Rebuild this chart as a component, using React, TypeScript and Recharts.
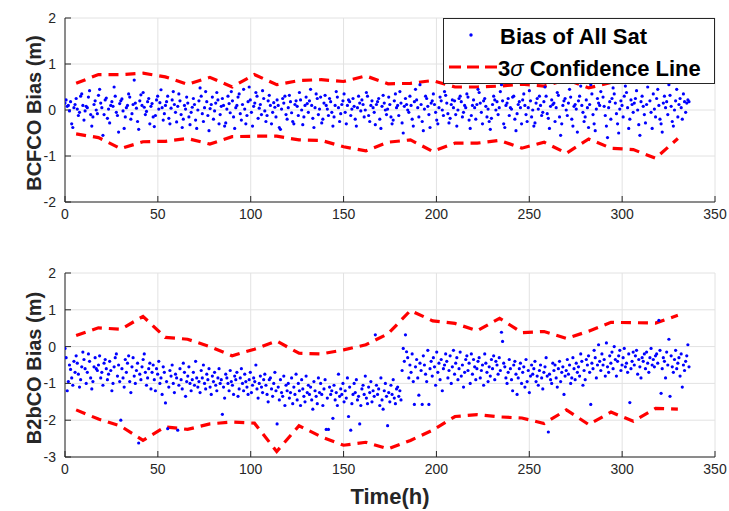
import React from 'react';
import { ComposedChart, Scatter, Line, XAxis, YAxis, CartesianGrid, Legend } from 'recharts';

// epochs run from 0 h to the last epoch, evenly spaced
const LAST_EPOCH_H = 336;

const bcfcoBias = [
  0.15, 0.22, 0.08, 0.1, -0.02, 0.18, -0.3, -0.38, 0.05, 0.12,
  0.25, 0.02, -0.12, -0.05, 0.3, 0.35, 0.1, -0.22, -0.02, 0.08,
  0.05, 0.28, 0.42, -0.1, -0.35, -0.15, 0.12, 0.2, 0.0, -0.08,
  0.32, 0.45, 0.15, 0.05, -0.55, -0.1, 0.22, 0.26, -0.18, 0.02,
  -0.28, 0.1, 0.18, 0.08, 0.5, 0.3, -0.05, -0.12, -0.48, 0.14,
  0.2, 0.24, -0.02, -0.4, -0.15, 0.05, 0.1, 0.35, 0.28, -0.2,
  -0.08, 0.12, 0.65, 0.15, 0.04, -0.25, -0.42, 0.2, 0.33, 0.1,
  0.38, 0.06, -0.1, -0.03, 0.18, 0.25, -0.3, 0.08, 0.14, -0.15,
  -0.36, -0.12, 0.22, 0.3, 0.02, 0.16, 0.44, 0.05, -0.22, -0.08,
  0.1, 0.18, 0.3, -0.18, -0.3, 0.04, 0.22, 0.4, 0.12, -0.05,
  -0.26, 0.08, 0.35, 0.2, -0.1, -0.38, -0.2, 0.1, 0.02, 0.28,
  0.15, -0.15, -0.32, -0.05, 0.06, 0.25, 0.12, -0.22, -0.4, 0.0,
  0.2, 0.48, 0.3, -0.08, -0.25, 0.05, 0.4, 0.18, -0.12, -0.45,
  0.03, 0.12, 0.28, -0.2, -0.02, 0.15, 0.38, 0.22, -0.3, -0.1,
  0.08, 0.25, 0.1, -0.35, -0.28, 0.02, 0.3, 0.14, -0.06, 0.4,
  0.2, -0.15, -0.4, 0.05, 0.1, 0.28, 0.35, -0.08, -0.22, 0.12,
  0.45, 0.02, -0.3, -0.12, 0.18, 0.5, 0.22, -0.05, -0.35, 0.08,
  0.15, 0.38, 0.3, -0.18, 0.04, 0.12, -0.1, 0.42, 0.25, -0.02,
  -0.25, -0.12, 0.2, 0.32, 0.1, -0.3, -0.05, 0.16, 0.06, -0.15,
  0.22, 0.1, -0.38, -0.42, 0.02, 0.25, 0.15, 0.3, -0.1, -0.2,
  0.05, 0.32, 0.18, -0.06, -0.25, -0.3, 0.12, 0.2, 0.08, -0.12,
  0.38, 0.22, 0.0, -0.32, -0.15, 0.1, 0.28, 0.14, -0.05, 0.2,
  0.45, 0.1, -0.18, -0.38, 0.05, 0.35, 0.25, -0.1, 0.02, 0.28,
  -0.28, -0.2, 0.15, 0.32, 0.1, 0.02, -0.12, 0.25, 0.18, -0.05,
  -0.35, -0.15, 0.1, 0.4, 0.28, 0.05, -0.25, -0.08, 0.12, 0.2,
  0.35, -0.05, -0.3, 0.1, 0.22, 0.18, -0.12, 0.02, 0.25, 0.08,
  -0.2, -0.35, 0.05, 0.3, 0.15, -0.02, 0.22, 0.12, -0.15, 0.0,
  0.38, 0.3, -0.12, -0.25, 0.1, 0.2, 0.05, -0.05, -0.32, 0.12,
  0.18, 0.25, -0.2, -0.4, 0.08, 0.32, 0.15, 0.0, -0.1, 0.02,
  0.28, 0.12, -0.15, -0.3, -0.22, 0.2, 0.35, 0.05, 0.1, -0.12,
  0.4, 0.15, -0.28, -0.5, 0.08, 0.25, 0.12, 0.0, -0.05, 0.3,
  0.1, -0.2, -0.35, 0.18, 0.45, 0.22, 0.05, -0.15, 0.55, 0.12,
  -0.25, -0.45, 0.02, 0.3, 0.25, 0.08, -0.1, -0.38, 0.15, 0.2,
  0.35, 0.12, -0.05, -0.22, -0.3, 0.05, 0.28, 0.2, 0.0, -0.12,
  0.4, 0.32, 0.15, -0.08, -0.28, -0.18, 0.12, 0.22, 0.05, 0.2,
  -0.1, -0.35, 0.0, 0.25, 0.3, 0.18, -0.15, -0.05, 0.1, 0.05,
  0.35, 0.28, -0.22, -0.4, -0.12, 0.1, 0.22, 0.05, -0.2, 0.12,
  0.45, 0.38, 0.15, -0.05, -0.3, 0.2, 0.25, 0.08, -0.15, 0.02,
  -0.25, -0.42, -0.18, 0.12, 0.3, 0.22, 0.0, 0.18, -0.1, 0.05,
  0.4, 0.55, 0.2, -0.3, -0.38, 0.1, 0.15, 0.25, -0.12, 0.05,
  0.02, 0.28, 0.3, -0.2, -0.45, -0.08, 0.12, 0.18, 0.05, -0.3,
  0.22, 0.35, 0.1, -0.1, -0.25, 0.05, 0.42, 0.2, -0.15, 0.0,
  -0.35, -0.28, 0.15, 0.25, 0.02, 0.3, 0.1, -0.12, -0.05, 0.18,
  0.5, 0.3, -0.08, -0.18, -0.4, 0.08, 0.22, 0.12, 0.15, -0.25,
  0.05, 0.38, 0.32, -0.15, -0.55, -0.3, 0.1, 0.2, 0.25, 0.0,
  -0.12, 0.15, 0.45, 0.28, -0.2, -0.35, 0.08, 0.12, 0.02, -0.48,
  0.2, 0.3, 0.52, 0.1, -0.05, -0.25, -0.15, 0.22, 0.05, -0.38,
  0.12, 0.55, 0.35, -0.1, -0.3, -0.45, 0.02, 0.25, 0.15, 0.1,
  0.4, 0.6, 0.28, 0.08, -0.12, -0.35, -0.6, 0.05, 0.18, -0.2,
  0.25, 0.48, 0.35, 0.15, -0.08, -0.3, -0.5, 0.02, 0.2, 0.1,
  -0.15, 0.3, 0.52, 0.38, 0.05, -0.4, -0.2, 0.22, 0.12, -0.05,
  0.15, 0.25, 0.42, 0.0, -0.32, -0.55, 0.18, 0.3, 0.08, -0.1,
  -0.28, 0.12, 0.5, 0.6, 0.2, -0.05, -0.4, 0.35, 0.02, -0.15,
  0.25, 0.45, 0.1, -0.2, -0.3, -0.48, 0.15, 0.3, 0.05, 0.18,
  -0.1, 0.55, 0.32, 0.08, -0.25, -0.35, 0.0, 0.2, 0.45, -0.15,
  0.12, 0.25, 0.05, -0.2, 0.35, 0.18, -0.05, 0.15, 0.22, 0.18,
];

const b2bcoBias = [
  -0.05, -0.3, -1.2, -0.95, -0.5, -0.62, -0.85, -1.05, -0.4, -0.7,
  -0.25, -0.45, -0.75, -1.1, -0.9, -0.55, -0.15, -0.35, -0.6, -1.0,
  -0.7, -0.2, -0.4, -0.85, -1.15, -0.95, -0.55, -0.3, -0.6, -0.65,
  -0.5, -0.25, -0.85, -0.7, -1.05, -0.45, -0.35, -0.6, -0.9, -0.75,
  -0.4, -0.65, -1.2, -1.0, -0.55, -0.3, -0.2, -0.8, -0.5, -0.95,
  -2.0, -0.6, -0.85, -1.1, -0.35, -0.7, -0.45, -0.25, -0.95, -1.25,
  -0.55, -0.3, -0.8, -1.0, -0.65, -0.45, -2.62, -0.75, -0.9, -0.55,
  -0.35, -0.2, -0.7, -1.05, -0.85, -0.6, -0.45, -1.15, -0.7, -0.5,
  -0.9, -1.2, -0.6, -0.75, -0.4, -1.0, -0.85, -1.3, -0.55, -0.7,
  -1.53, -0.95, -2.23, -1.1, -0.65, -0.8, -0.5, -1.0, -1.25, -0.75,
  -0.85, -2.27, -1.05, -0.6, -0.9, -1.15, -0.45, -0.7, -1.35, -0.95,
  -0.8, -0.55, -1.0, -1.2, -0.9, -0.7, -1.05, -0.4, -0.85, -1.1,
  -0.95, -1.25, -0.65, -0.85, -0.5, -1.0, -1.15, -0.75, -0.9, -0.6,
  -1.1, -1.3, -0.8, -0.95, -0.7, -1.05, -1.2, -0.85, -0.6, -1.0,
  -0.9, -1.84, -1.1, -1.4, -0.75, -0.85, -1.0, -1.2, -0.65, -0.95,
  -1.05, -1.3, -0.8, -0.9, -0.7, -1.35, -1.15, -0.85, -0.6, -1.0,
  -1.2, -0.75, -0.95, -1.1, -1.3, -0.9, -0.7, -1.25, -1.05, -0.85,
  -0.95, -0.5, -1.15, -1.4, -1.0, -0.8, -1.1, -1.25, -0.9, -0.75,
  -1.05, -1.3, -1.5, -0.9, -0.85, -1.15, -1.35, -1.0, -0.7, -1.2,
  -2.1, -1.1, -1.45, -0.9, -1.25, -1.35, -0.8, -1.6, -1.05, -1.2,
  -1.0, -1.4, -1.25, -0.85, -1.55, -1.1, -1.3, -0.75, -1.45, -1.0,
  -1.2, -1.6, -0.9, -1.15, -1.35, -1.5, -0.8, -1.25, -1.05, -1.3,
  -1.1, -1.45, -1.7, -0.95, -1.2, -1.35, -1.55, -0.85, -1.25, -1.0,
  -1.3, -1.6, -1.15, -0.9, -2.25, -1.4, -2.25, -1.1, -1.3, -1.2,
  -1.95, -1.05, -1.45, -1.25, -1.6, -0.75, -1.35, -1.15, -1.3, -1.0,
  -1.5, -1.2, -1.4, -0.85, -1.9, -1.1, -2.27, -1.55, -1.3, -1.0,
  -1.25, -0.9, -1.45, -1.35, -2.1, -1.6, -1.15, -1.05, -1.3, -0.8,
  -1.4, -1.55, -1.1, -1.25, -0.95, -1.5, -1.2, -1.35, 0.32, -1.05,
  -1.3, -1.15, -1.6, -0.85, -1.45, -1.7, -1.2, -1.0, -1.35, -2.15,
  -1.25, -1.5, -1.05, -1.3, -0.9, -1.4, -1.55, -1.15, -1.1, -1.35,
  -1.2, -1.45, -0.65, -0.05, -0.4, 0.32, -0.14, -0.3, -0.85, -0.5,
  -0.7, -0.2, -0.95, -1.57, -0.55, -0.35, -0.85, -1.32, -0.45, -0.65,
  -1.57, -0.25, -0.5, -0.75, -0.95, -0.1, -1.57, -0.6, -0.4, -0.8,
  -0.3, -0.55, -1.05, -0.15, -0.7, -0.45, -0.9, -0.35, -1.2, -0.6,
  -0.5, -0.2, -0.4, -0.85, -0.65, -0.25, -1.0, -0.55, -0.1, -0.75,
  -0.45, -0.3, -0.9, -0.6, -0.15, -0.8, -0.5, -1.1, -0.7, -0.35,
  -0.25, -0.65, -0.45, -1.0, -0.2, -0.75, -0.35, -0.55, -0.9, -0.6,
  -0.4, -0.3, -0.85, -0.65, -0.5, -1.05, -0.2, -0.45, -0.7, -0.95,
  -0.55, -0.8, -0.35, -0.6, -0.25, -0.9, -0.4, -0.5, -0.75, -0.3,
  -0.65, 0.39, 0.14, -0.45, -0.55, -0.85, -1.0, -0.7, -0.35, -0.6,
  -0.9, -1.2, -0.5, -0.4, -0.75, -1.3, -0.85, -0.6, -0.45, -1.0,
  -0.7, -0.55, -1.1, -0.35, -0.95, -0.65, -1.25, -0.8, -0.5, -0.75,
  -0.6, -0.4, -0.95, -0.8, -1.05, -0.65, -0.5, -0.85, -1.15, -0.7,
  -0.55, -0.3, -0.8, -2.32, -0.75, -0.9, -1.0, -0.45, -0.65, -0.5,
  -0.85, -1.1, -0.6, -0.4, -0.95, -0.7, -0.55, -1.3, -0.8, -0.65,
  -0.35, -0.75, -0.5, -1.0, -0.85, -0.3, -0.6, -0.9, -0.45, -0.7,
  -0.55, -0.8, -0.2, -0.4, -1.05, -0.65, -0.9, -0.35, -0.5, -0.25,
  -0.7, -1.57, -0.45, -0.6, -0.1, -0.3, -0.85, -0.5, 0.05, -0.4,
  -0.65, -0.2, -0.5, -0.35, -0.8, 0.1, -0.55, -0.7, -0.25, -0.45,
  -0.15, -0.6, 0.0, -0.35, -0.8, -0.4, -0.25, -0.1, -0.65, -0.5,
  -0.3, -0.05, -0.55, -0.45, -0.7, -0.2, -1.52, -0.6, -0.4, -0.15,
  -0.5, -0.25, -0.1, -0.75, -0.35, -0.55, -0.85, -0.3, -0.4, -0.2,
  -0.6, -0.15, -0.45, -0.7, -0.3, -0.05, -0.5, -0.35, -0.55, -0.25,
  -0.2, -0.45, 0.71, -0.1, -1.27, -0.6, -0.3, -0.4, -0.85, -0.15,
  -0.5, 0.2, -1.35, -0.25, -0.55, -0.7, -0.35, -0.1, -0.6, -0.45,
  -0.3, -0.8, -0.2, -1.1, -0.5, -0.65, -0.4, -0.25, 0.05, -0.55,
];

// 3-sigma bounds, one value per 12 h block (block centre)
const sigmaHours = [6, 18, 30, 42, 54, 66, 78, 90, 102, 114, 126, 138, 150, 162, 174, 186, 198, 210, 222, 234, 246, 258, 270, 282, 294, 306, 318, 330];
const bcfcoUpper = [0.58, 0.77, 0.77, 0.8, 0.72, 0.56, 0.71, 0.5, 0.77, 0.55, 0.64, 0.66, 0.62, 0.74, 0.57, 0.58, 0.64, 0.5, 0.5, 0.52, 0.56, 0.52, 0.66, 0.48, 0.6, 0.6, 0.65, 0.62];
const bcfcoLower = [-0.52, -0.6, -0.84, -0.69, -0.68, -0.62, -0.74, -0.58, -0.57, -0.57, -0.65, -0.66, -0.8, -0.89, -0.7, -0.65, -0.9, -0.72, -0.72, -0.66, -0.83, -0.7, -0.94, -0.63, -0.83, -0.86, -1.05, -0.62];
const b2bcoUpper = [0.3, 0.51, 0.47, 0.82, 0.25, 0.2, 0.0, -0.25, -0.07, 0.15, -0.18, -0.2, -0.09, 0.05, 0.35, 0.98, 0.7, 0.63, 0.43, 0.77, 0.38, 0.41, 0.22, 0.42, 0.66, 0.65, 0.64, 0.85];
const b2bcoLower = [-1.72, -1.97, -2.16, -2.55, -2.18, -2.25, -2.1, -2.05, -2.08, -2.85, -2.15, -2.45, -2.68, -2.6, -2.78, -2.55, -2.27, -1.9, -1.85, -1.91, -1.94, -2.09, -1.72, -2.12, -1.78, -2.03, -1.68, -1.7];

const timeTicks = [0, 50, 100, 150, 200, 250, 300, 350];
const bcfcoTicks = [-2, -1, 0, 1, 2];
const b2bcoTicks = [-3, -2, -1, 0, 1, 2];

const FONT = '"Liberation Sans", Arial, Helvetica, sans-serif';
const INK = '#262626';

const toPoints = (vals: number[]) =>
  vals.map((v, i) => ({ t: (i * LAST_EPOCH_H) / (vals.length - 1), v }));
const toBound = (vals: number[]) => vals.map((v, i) => ({ t: sigmaHours[i], v }));

const Dot = (props: any) => <circle cx={props.cx} cy={props.cy} r={1.6} fill="#0000ff" />;

const LegendBox = () => (
  <div
    style={{
      position: 'relative',
      width: 272,
      height: 66,
      boxSizing: 'border-box',
      border: `1px solid ${INK}`,
      background: '#fff',
      fontFamily: FONT,
      fontWeight: 'bold',
      fontSize: 22,
      color: '#000',
    }}
  >
    <svg width={56} height={66} style={{ position: 'absolute', left: 0, top: 0 }}>
      <circle cx={27} cy={16} r={1.7} fill="#0000ff" />
      <line x1={5} y1={48} x2={54} y2={48} stroke="#ff0000" strokeWidth={3.2} strokeDasharray="12 6" />
    </svg>
    <div style={{ position: 'absolute', left: 56, top: 5, whiteSpace: 'nowrap' }}>Bias of All Sat</div>
    <div style={{ position: 'absolute', left: 54, top: 37, whiteSpace: 'nowrap' }}>
      3<span style={{ fontStyle: 'italic', fontWeight: 'normal' }}>σ</span> Confidence Line
    </div>
  </div>
);

interface PanelProps {
  height: number;
  marginBottom: number;
  xAxisHeight: number;
  points: { t: number; v: number }[];
  upper: { t: number; v: number }[];
  lower: { t: number; v: number }[];
  yTicks: number[];
  yLabel: string;
  xLabel?: string;
  showLegend?: boolean;
}

function BiasPanel({ height, marginBottom, xAxisHeight, points, upper, lower, yTicks, yLabel, xLabel, showLegend }: PanelProps) {
  const yDomain = [yTicks[0], yTicks[yTicks.length - 1]];
  const tickStyle = { fill: INK, fontSize: 14, fontFamily: FONT };
  return (
    <ComposedChart width={729} height={height} margin={{ top: 18, right: 14, bottom: marginBottom, left: 0 }}>
      <CartesianGrid stroke="#e2e2e2" />
      <XAxis
        dataKey="t"
        type="number"
        domain={[0, 350]}
        ticks={timeTicks}
        interval={0}
        allowDataOverflow
        height={xAxisHeight}
        tickSize={-6}
        tickMargin={13}
        tick={tickStyle}
        axisLine={{ stroke: INK }}
        tickLine={{ stroke: INK }}
        label={xLabel ? { value: xLabel, position: 'insideBottom', offset: -2, fill: INK, fontSize: 22, fontWeight: 'bold', fontFamily: FONT } : undefined}
      />
      <XAxis
        xAxisId="top"
        orientation="top"
        dataKey="t"
        type="number"
        domain={[0, 350]}
        ticks={timeTicks}
        interval={0}
        height={0}
        tickSize={-6}
        tick={false}
        axisLine={{ stroke: INK }}
        tickLine={{ stroke: INK }}
      />
      <YAxis
        dataKey="v"
        type="number"
        domain={yDomain}
        ticks={yTicks}
        interval={0}
        allowDataOverflow
        width={65}
        tickSize={-6}
        tickMargin={15}
        tick={tickStyle}
        axisLine={{ stroke: INK }}
        tickLine={{ stroke: INK }}
        label={{ value: yLabel, angle: -90, position: 'center', fill: INK, fontSize: 20, fontWeight: 'bold', fontFamily: FONT, dx: 1, dy: 3 }}
      />
      <YAxis
        yAxisId="right"
        orientation="right"
        type="number"
        domain={yDomain}
        ticks={yTicks}
        interval={0}
        width={0}
        tickSize={-6}
        tick={false}
        axisLine={{ stroke: INK }}
        tickLine={{ stroke: INK }}
      />
      <Scatter data={points} dataKey="v" shape={Dot} isAnimationActive={false} />
      <Line data={upper} dataKey="v" type="linear" stroke="#ff0000" strokeWidth={3.2} strokeDasharray="10 7" dot={false} activeDot={false} isAnimationActive={false} />
      <Line data={lower} dataKey="v" type="linear" stroke="#ff0000" strokeWidth={3.2} strokeDasharray="10 7" dot={false} activeDot={false} isAnimationActive={false} />
      {showLegend && (
        <Legend
          layout="horizontal"
          verticalAlign="middle"
          align="center"
          content={<LegendBox />}
          wrapperStyle={{ left: 443, top: 18, width: 272, height: 66 }}
        />
      )}
    </ComposedChart>
  );
}

export default function App() {
  return (
    <div style={{ position: 'absolute', left: 0, top: 0, width: 729, height: 511, background: '#fff' }}>
      <div style={{ position: 'absolute', left: 0, top: 0 }}>
        <BiasPanel
          height={240}
          marginBottom={8}
          xAxisHeight={30}
          points={toPoints(bcfcoBias)}
          upper={toBound(bcfcoUpper)}
          lower={toBound(bcfcoLower)}
          yTicks={bcfcoTicks}
          yLabel="BCFCO Bias (m)"
          showLegend
        />
      </div>
      <div style={{ position: 'absolute', left: 0, top: 255 }}>
        <BiasPanel
          height={256}
          marginBottom={9}
          xAxisHeight={45}
          points={toPoints(b2bcoBias)}
          upper={toBound(b2bcoUpper)}
          lower={toBound(b2bcoLower)}
          yTicks={b2bcoTicks}
          yLabel="B2bCO Bias (m)"
          xLabel="Time(h)"
        />
      </div>
    </div>
  );
}
